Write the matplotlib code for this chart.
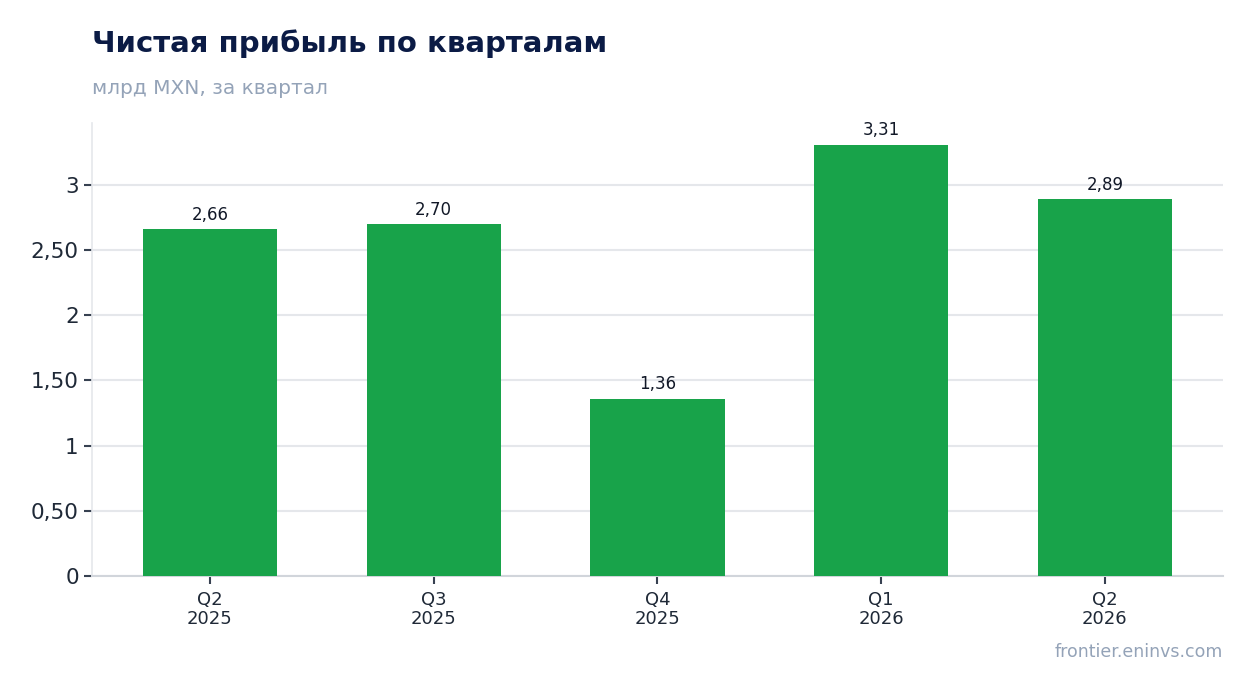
import matplotlib
matplotlib.use('Agg')
import matplotlib.pyplot as plt

# data
quarters = ['Q2\n2025', 'Q3\n2025', 'Q4\n2025', 'Q1\n2026', 'Q2\n2026']
profit = [2.66, 2.70, 1.36, 3.31, 2.89]
value_labels = ['2,66', '2,70', '1,36', '3,31', '2,89']
y_ticks = [0, 0.5, 1, 1.5, 2, 2.5, 3]
y_tick_labels = ['0', '0,50', '1', '1,50', '2', '2,50', '3']

plt.rcParams['font.family'] = ['DejaVu Sans']

fig = plt.figure(figsize=(12.54, 6.93), dpi=100)
ax = fig.add_axes([92 / 1254, 1 - 576 / 693, (1223 - 92) / 1254, (576 - 123) / 693])

x = list(range(len(quarters)))
bars = ax.bar(x, profit, width=0.6, color='#18a34a', zorder=3)

for xi, v, lab in zip(x, profit, value_labels):
    ax.annotate(lab, (xi, v), xytext=(0, 4), textcoords='offset points',
                ha='center', va='bottom', fontsize=12, color='#111827')

ax.set_xlim(-0.527, 4.528)
ax.set_ylim(0, 3.4755)
ax.set_xticks(x)
ax.set_xticklabels(quarters, fontsize=13, color='#1f2937', linespacing=1.05)
ax.set_yticks(y_ticks)
ax.set_yticklabels(y_tick_labels, fontsize=15.5, color='#1f2937')
ax.tick_params(axis='both', length=6, width=1.5, color='#374151')
ax.tick_params(axis='x', pad=5)

ax.grid(axis='y', color='#e5e7eb', linewidth=1.5, zorder=0)
ax.set_axisbelow(True)
for side in ['top', 'right']:
    ax.spines[side].set_visible(False)
ax.spines['left'].set_color('#e5e7eb')
ax.spines['bottom'].set_color('#d1d5db')
ax.spines['left'].set_linewidth(1.2)
ax.spines['bottom'].set_linewidth(1.5)

fig.text(92 / 1254, 1 - 44 / 693, 'Чистая прибыль по кварталам', fontsize=21,
         fontweight='bold', color='#0b1b45', ha='left', va='center')
fig.text(92 / 1254, 1 - 88 / 693, 'млрд MXN, за квартал', fontsize=14.5,
         color='#94a3b8', ha='left', va='center')
fig.text(1223 / 1254, 1 - 652 / 693, 'frontier.eninvs.com', fontsize=12.5,
         color='#94a3b8', ha='right', va='center')

fig.savefig('out.png', dpi=100)
